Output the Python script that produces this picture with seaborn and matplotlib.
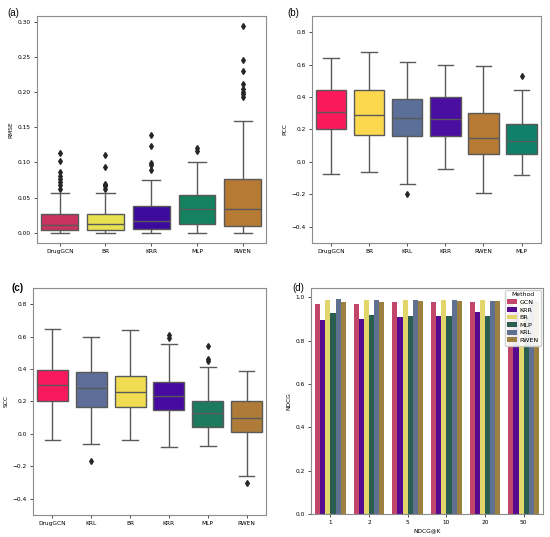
import pandas as pd
import seaborn as sns
import matplotlib
matplotlib.use("Agg")
import matplotlib.pyplot as plt

# ---- panel (a) RMSE: lo whisker, q1, median, q3, hi whisker, outliers ----
rmse_methods = ["DrugGCN", "BR", "KRR", "MLP", "RWEN"]
rmse_lo = [0.0, 0.0, 0.0, 0.0, 0.0]
rmse_q1 = [0.004, 0.004, 0.005, 0.013, 0.0096]
rmse_med = [0.0115, 0.013, 0.017, 0.0335, 0.0335]
rmse_q3 = [0.026, 0.026, 0.038, 0.053, 0.077]
rmse_hi = [0.056, 0.056, 0.075, 0.101, 0.159]
rmse_out = [[0.114, 0.102, 0.086, 0.081, 0.077, 0.072, 0.068, 0.062],
            [0.110, 0.093, 0.070, 0.068, 0.066, 0.062],
            [0.139, 0.124, 0.099, 0.096, 0.089],
            [0.121, 0.116],
            [0.294, 0.246, 0.230, 0.212, 0.204, 0.201, 0.197, 0.194]]
rmse_colors = ["#c9335f", "#e8e253", "#3d0a9e", "#14825f", "#b67a34"]

# ---- panel (b) PCC ----
pcc_methods = ["DrugGCN", "BR", "KRL", "KRR", "RWEN", "MLP"]
pcc_lo = [-0.076, -0.060, -0.136, -0.043, -0.194, -0.082]
pcc_q1 = [0.202, 0.167, 0.157, 0.157, 0.047, 0.047]
pcc_med = [0.305, 0.287, 0.270, 0.264, 0.146, 0.126]
pcc_q3 = [0.441, 0.441, 0.386, 0.398, 0.301, 0.235]
pcc_hi = [0.641, 0.678, 0.614, 0.598, 0.594, 0.443]
pcc_out = [[], [], [-0.198], [], [], [0.528]]
pcc_colors = ["#fa1a5c", "#fcd84e", "#5b6f98", "#4a0ea0", "#b67a34", "#10806a"]

# ---- panel (c) SCC ----
scc_methods = ["DrugGCN", "KRL", "BR", "KRR", "MLP", "RWEN"]
scc_lo = [-0.035, -0.062, -0.039, -0.081, -0.072, -0.260]
scc_q1 = [0.205, 0.163, 0.167, 0.149, 0.043, 0.014]
scc_med = [0.304, 0.286, 0.256, 0.232, 0.130, 0.101]
scc_q3 = [0.397, 0.380, 0.358, 0.318, 0.203, 0.205]
scc_hi = [0.647, 0.597, 0.638, 0.554, 0.413, 0.389]
scc_out = [[], [-0.168], [], [0.608, 0.589], [0.544, 0.460, 0.450], [-0.300]]
scc_colors = ["#f8195d", "#5e6e98", "#f0dc50", "#470aa0", "#1e7a5e", "#ae7c38"]

# ---- panel (d) NDCG@K ----
k_labels = ["1", "2", "5", "10", "20", "50"]
ndcg_methods = ["GCN", "KRR", "BR", "MLP", "KRL", "RWEN"]
ndcg_gcn = [0.970, 0.970, 0.977, 0.980, 0.980, 0.980]
ndcg_krr = [0.895, 0.900, 0.910, 0.915, 0.930, 0.930]
ndcg_br = [0.985, 0.987, 0.985, 0.985, 0.985, 0.985]
ndcg_mlp = [0.925, 0.920, 0.915, 0.915, 0.915, 0.915]
ndcg_krl = [0.993, 0.987, 0.985, 0.985, 0.983, 0.983]
ndcg_rwen = [0.977, 0.980, 0.983, 0.983, 0.983, 0.983]
ndcg_colors = ["#c2456a", "#560a90", "#e2d56a", "#2a5e50", "#5f7090", "#9c8040"]

FS = 4.2


def summary_to_sample(lo, q1, med, q3, hi, outliers):
    """Turn read-off box stats into a sample whose quartiles match them."""
    low = sorted(v for v in outliers if v < lo)
    high = sorted(v for v in outliers if v > hi)
    m = max(len(low) + 1, len(high) + 1, 2)
    vals = low + [lo] * (m - len(low))
    vals += [q1] + [q1] * (m - 1) + [med] + [med] * (m - 1) + [q3]
    vals += [hi] * (m - len(high)) + high
    return vals


def box_frame(methods, lo, q1, med, q3, hi, out, col):
    rows = []
    for i, name in enumerate(methods):
        for v in summary_to_sample(lo[i], q1[i], med[i], q3[i], hi[i],
                                   out[i]):
            rows.append({"Method": name, col: v})
    return pd.DataFrame(rows)


def style_axes(ax):
    ax.tick_params(labelsize=FS, length=2.5, width=0.7, color="0.3", pad=2)
    for s in ax.spines.values():
        s.set_color("0.55")


def draw_box(ax, df, col, methods, colors):
    sns.boxplot(data=df, x="Method", y=col, hue="Method", order=methods,
                hue_order=methods, palette=colors, saturation=1, width=0.8,
                linecolor="0.35", linewidth=1, legend=False, ax=ax,
                flierprops=dict(marker="d", markerfacecolor="0.15",
                                markeredgecolor="0.15", markersize=3))
    ax.set_xlabel("")
    ax.set_ylabel(col, fontsize=FS, labelpad=3)
    style_axes(ax)


plt.rcParams["font.family"] = ["DejaVu Sans"]
fig = plt.figure(figsize=(5.5, 5.37), dpi=100)
ax_a = fig.add_axes([0.067, 0.5475, 0.416, 0.4227])
ax_b = fig.add_axes([0.567, 0.5475, 0.416, 0.4227])
ax_c = fig.add_axes([0.060, 0.041, 0.4236, 0.4227])
ax_d = fig.add_axes([0.5655, 0.043, 0.4218, 0.4207])

draw_box(ax_a, box_frame(rmse_methods, rmse_lo, rmse_q1, rmse_med, rmse_q3,
                         rmse_hi, rmse_out, "RMSE"),
         "RMSE", rmse_methods, rmse_colors)
ax_a.set_yticks([0.0, 0.05, 0.10, 0.15, 0.20, 0.25, 0.30])
ax_a.set_yticklabels(["0.00", "0.05", "0.10", "0.15", "0.20", "0.25", "0.30"])

draw_box(ax_b, box_frame(pcc_methods, pcc_lo, pcc_q1, pcc_med, pcc_q3,
                         pcc_hi, pcc_out, "PCC"),
         "PCC", pcc_methods, pcc_colors)
ax_b.set_ylim(-0.5, 0.9)
ax_b.set_yticks([-0.4, -0.2, 0.0, 0.2, 0.4, 0.6, 0.8])

draw_box(ax_c, box_frame(scc_methods, scc_lo, scc_q1, scc_med, scc_q3,
                         scc_hi, scc_out, "SCC"),
         "SCC", scc_methods, scc_colors)
ax_c.set_ylim(-0.5, 0.9)
ax_c.set_yticks([-0.4, -0.2, 0.0, 0.2, 0.4, 0.6, 0.8])

ndcg = pd.DataFrame({
    "NDCG@K": k_labels * 6,
    "Method": [m for m in ndcg_methods for _ in k_labels],
    "NDCG": ndcg_gcn + ndcg_krr + ndcg_br + ndcg_mlp + ndcg_krl + ndcg_rwen,
})
sns.barplot(data=ndcg, x="NDCG@K", y="NDCG", hue="Method", order=k_labels,
            hue_order=ndcg_methods, palette=ndcg_colors, saturation=1,
            ax=ax_d)
ax_d.set_xlabel("NDCG@K", fontsize=FS, labelpad=2)
ax_d.set_ylabel("NDCG", fontsize=FS, labelpad=3)
style_axes(ax_d)
ax_d.legend(title="Method", loc="upper right", fontsize=4.6,
            title_fontsize=4.4, framealpha=0.9, handlelength=1.5,
            handleheight=0.8, borderpad=0.4, labelspacing=0.3,
            handletextpad=0.4, borderaxespad=0.3)

for label, x, y in [("(a)", 0.014, 0.971), ("(b)", 0.523, 0.971),
                    ("(c)", 0.020, 0.459), ("(d)", 0.531, 0.459)]:
    fig.text(x, y, label, fontsize=7, family="Liberation Sans",
             fontweight="bold" if label == "(c)" else "normal")

fig.savefig("out.png", dpi=100)
